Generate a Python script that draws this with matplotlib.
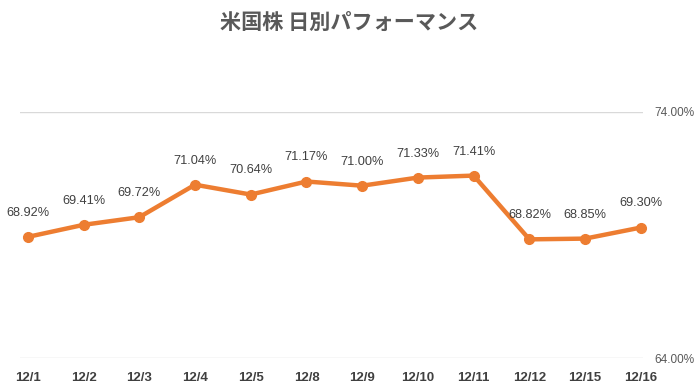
import matplotlib
matplotlib.use("Agg")
from matplotlib import pyplot as plt

dates = ["12/1", "12/2", "12/3", "12/4", "12/5", "12/8", "12/9",
         "12/10", "12/11", "12/12", "12/15", "12/16"]
perf = [68.92, 69.41, 69.72, 71.04, 70.64, 71.17, 71.00,
        71.33, 71.41, 68.82, 68.85, 69.30]
yticks = [64.0, 74.0]

plt.rcParams['font.family'] = ['Liberation Sans', 'DejaVu Sans']

fig = plt.figure(figsize=(6.98, 3.92), dpi=100)
ax = fig.add_axes([0.0287, 0.0867, 0.8926, 0.628])

x = list(range(len(dates)))
ax.plot(x, perf, color="#ED7D31", linewidth=3.2, marker="o",
        markersize=7, solid_capstyle="round", zorder=3, clip_on=False)

for xi, v in zip(x, perf):
    ax.annotate("{:.2f}%".format(v), (xi, v), xytext=(0, 13),
                textcoords="offset points", ha="center", va="bottom",
                fontsize=9.2, color="#404040")

ax.set_ylim(64, 74)
ax.set_xlim(-0.14, 11.04)
ax.set_yticks(yticks)
ax.set_yticklabels(["{:.2f}%".format(t) for t in yticks])
ax.yaxis.tick_right()
ax.tick_params(axis="y", length=0, pad=8, labelsize=8.5, labelcolor="#595959")
ax.grid(axis="y", color="#D9D9D9", linewidth=1)
ax.set_axisbelow(True)

ax.set_xticks(x)
ax.set_xticklabels(dates, fontsize=9.5, fontweight="bold", color="#404040")
ax.tick_params(axis="x", length=0, pad=10)

for s in ax.spines.values():
    s.set_visible(False)

fig.text(0.5, 0.943, "米国株 日別パフォーマンス", ha="center", va="center",
         fontsize=15.2, color="#595959", fontweight="bold",
         family=["Noto Sans CJK JP", "DejaVu Sans"])

fig.savefig("out.png", dpi=100)
